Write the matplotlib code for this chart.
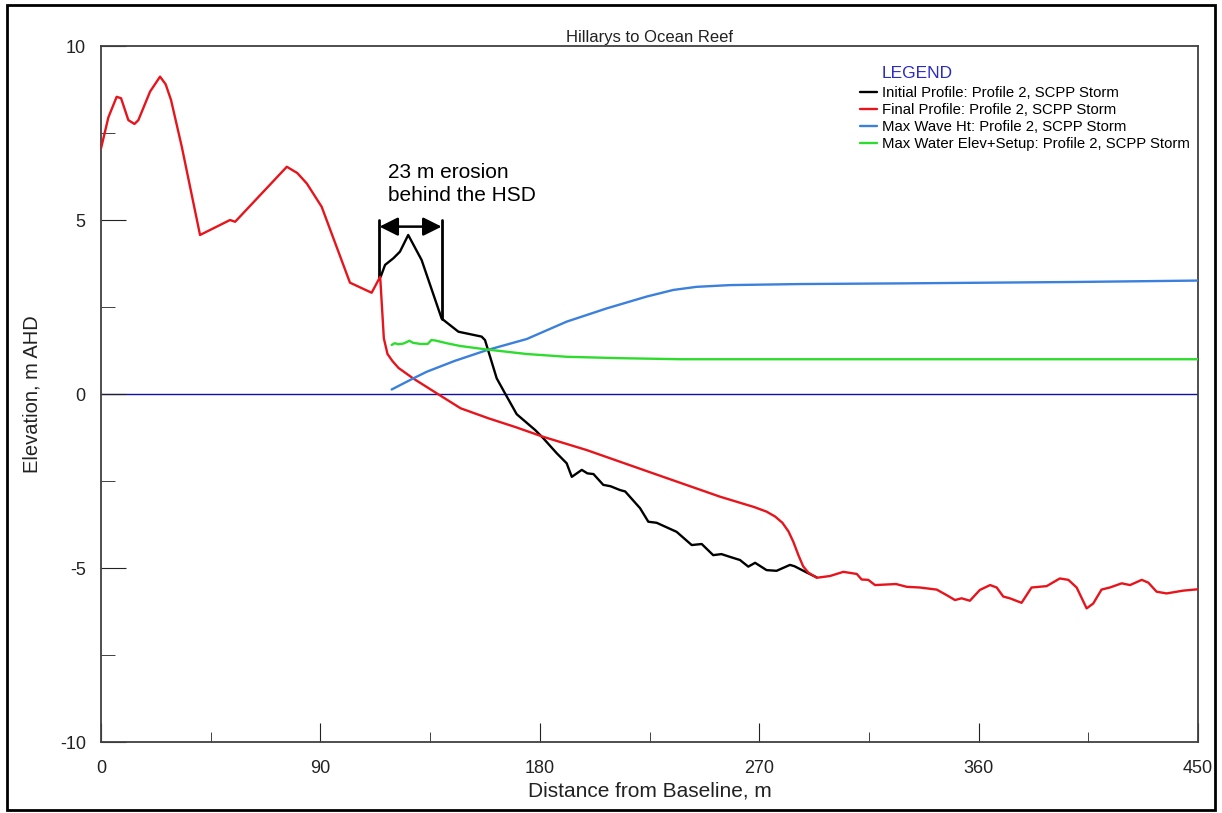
"""
Beach profile response to the SCPP storm, Hillarys to Ocean Reef (Profile 2).
"""
import matplotlib
matplotlib.use("Agg")
import matplotlib.pyplot as plt
from matplotlib.patches import Rectangle

plt.rcParams["font.family"] = ["Liberation Sans", "DejaVu Sans"]
plt.rcParams["axes.unicode_minus"] = False
plt.rcParams["lines.solid_joinstyle"] = "round"
plt.rcParams["lines.solid_capstyle"] = "round"

# initial profile (visible part, elsewhere it lies under the final profile)
initial_x = [114.7, 116.5, 119.9, 122.6, 126.0, 131.5, 139.7, 146.6, 156.1, 157.5,
             162.3, 165.7, 170.5, 178.0, 181.4, 186.9, 191.0, 193.1, 197.2, 199.5,
             202.0, 206.0, 209.0, 212.9, 215.0, 221.1, 224.5, 227.9, 236.1, 242.3,
             246.4, 251.1, 254.5, 258.0, 262.1, 265.5, 268.3, 273.0, 277.1, 282.6,
             284.5, 289.5, 293.6]
initial_z = [3.37, 3.71, 3.90, 4.09, 4.57, 3.85, 2.17, 1.79, 1.65, 1.55,
             0.45, 0.02, -0.58, -1.03, -1.27, -1.70, -1.99, -2.38, -2.18, -2.28,
             -2.30, -2.61, -2.65, -2.76, -2.80, -3.28, -3.67, -3.70, -3.96, -4.34,
             -4.31, -4.63, -4.60, -4.68, -4.77, -4.96, -4.85, -5.06, -5.08, -4.91,
             -4.95, -5.13, -5.27]

# final profile
final_x = [0.0, 3.0, 6.4, 8.2, 11.2, 13.7, 15.3, 20.1, 24.2, 26.5, 28.7, 33.1,
           40.6, 50.9, 52.9, 55.0, 76.2, 80.5, 84.4, 90.5, 102.1, 111.0, 114.5,
           116.0, 117.5, 119.5, 122.0, 128.0, 137.7, 147.5, 159.0, 170.0, 181.4, 199.2,
           226.5, 253.9, 268.0, 273.0, 276.5, 279.5, 282.0, 284.0, 286.0, 288.0, 290.1,
           293.6, 299.0,
           304.5, 310.0, 312.0, 314.7, 317.5, 326.1, 330.5, 335.9, 342.8, 346.9,
           350.3, 353.0, 356.4, 360.5, 364.7, 367.4, 370.1, 372.8, 377.6, 381.7,
           387.9, 393.3, 396.8, 400.2, 404.3, 407.0, 410.4, 413.8, 418.7, 422.1,
           426.9, 429.6, 433.0, 437.1, 443.9, 450.0]
final_z = [7.06, 7.95, 8.54, 8.50, 7.87, 7.76, 7.87, 8.69, 9.12, 8.90, 8.45, 7.11,
           4.57, 4.93, 5.00, 4.95, 6.53, 6.35, 6.05, 5.38, 3.20, 2.91, 3.37,
           1.60, 1.15, 0.95, 0.75, 0.45, 0.02, -0.41, -0.70, -0.95, -1.23, -1.61,
           -2.28, -2.95, -3.25, -3.38, -3.52, -3.70, -3.95, -4.25, -4.62, -4.95, -5.13,
           -5.28, -5.23,
           -5.11, -5.17, -5.33, -5.34, -5.49, -5.46, -5.54, -5.56, -5.62, -5.78,
           -5.92, -5.87, -5.94, -5.63, -5.49, -5.56, -5.82, -5.87, -6.00, -5.56,
           -5.52, -5.30, -5.34, -5.56, -6.16, -6.02, -5.62, -5.56, -5.44, -5.49,
           -5.34, -5.42, -5.68, -5.73, -5.65, -5.61]

# maximum wave height
wave_x = [119.2, 128.1, 133.6, 145.0, 158.2, 174.6, 191.0, 207.4, 223.8, 234.7,
          244.3, 258.0, 286.7, 330.0, 364.7, 400.0, 450.0]
wave_z = [0.13, 0.45, 0.64, 0.95, 1.26, 1.58, 2.08, 2.46, 2.80, 2.99,
          3.08, 3.13, 3.16, 3.18, 3.20, 3.22, 3.26]

# maximum water elevation + setup
water_x = [119.2, 120.5, 122.0, 124.0, 126.5, 128.0, 131.0, 134.0, 135.5, 137.0,
           141.8, 147.3, 158.2, 174.6, 191.0, 212.9, 237.5, 286.7, 450.0]
water_z = [1.41, 1.46, 1.43, 1.45, 1.53, 1.47, 1.44, 1.44, 1.55, 1.54,
           1.46, 1.38, 1.28, 1.15, 1.07, 1.03, 1.00, 1.00, 1.00]

labels = ["Initial Profile: Profile 2, SCPP Storm",
          "Final Profile: Profile 2, SCPP Storm",
          "Max Wave Ht: Profile 2, SCPP Storm",
          "Max Water Elev+Setup: Profile 2, SCPP Storm"]
colors = ["black", "#e8141c", "#3a80dc", "#2edc2e"]

# erosion annotation
erosion_left, erosion_right = 114.2, 139.7
erosion_top = 5.0
erosion_arrow_y = 4.81
erosion_text = "23 m erosion\nbehind the HSD"


def main():
    fig = plt.figure(figsize=(12.22, 8.13), dpi=100)
    ax = fig.add_axes([0.0827, 0.0873, 0.8977, 0.8561])

    ax.axhline(0, color="#1010a8", lw=1.0, zorder=1)
    ax.plot(initial_x, initial_z, color=colors[0], lw=1.7, label=labels[0], zorder=2)
    ax.plot(final_x, final_z, color=colors[1], lw=1.7, label=labels[1], zorder=3)
    ax.plot(wave_x, wave_z, color=colors[2], lw=1.7, label=labels[2], zorder=4)
    ax.plot(water_x, water_z, color=colors[3], lw=1.7, label=labels[3], zorder=5)

    # erosion marker
    ax.plot([erosion_left, erosion_left], [erosion_top, 3.37], color="black", lw=2)
    ax.plot([erosion_right, erosion_right], [erosion_top, 2.17], color="black", lw=2)
    ax.annotate("", xy=(erosion_left, erosion_arrow_y), xytext=(erosion_right, erosion_arrow_y),
                arrowprops=dict(arrowstyle="<|-|>", color="black", lw=1.8,
                                mutation_scale=28, shrinkA=0, shrinkB=0))
    ax.text(117.7, 6.65, erosion_text, fontsize=15, va="top", ha="left",
            linespacing=1.3)

    ax.set_xlim(0, 450)
    ax.set_ylim(-10, 10)
    ax.set_xticks([0, 90, 180, 270, 360, 450])
    ax.set_xticks([45, 135, 225, 315, 405], minor=True)
    ax.set_yticks([-10, -5, 0, 5, 10])
    ax.set_yticks([-7.5, -2.5, 2.5, 7.5], minor=True)
    ax.tick_params(axis="both", which="both", direction="in", labelsize=13,
                   colors="#222222")
    ax.tick_params(axis="x", which="major", length=14, pad=13)
    ax.tick_params(axis="x", which="minor", length=7)
    ax.tick_params(axis="y", which="major", length=18, pad=11)
    ax.tick_params(axis="y", which="minor", length=10)
    for sp in ax.spines.values():
        sp.set_color("#404040")
        sp.set_linewidth(1.3)

    ax.set_xlabel("Distance from Baseline, m", fontsize=15, labelpad=3, color="#222222")
    ax.set_ylabel("Elevation, m AHD", fontsize=14.5, labelpad=13, color="#222222")
    ax.set_title("Hillarys to Ocean Reef", fontsize=12, pad=3, color="#222222")

    ax.legend(loc="upper left", bbox_to_anchor=(0.692, 0.942), frameon=False,
              fontsize=10.7, handlelength=1.1, handletextpad=0.35, labelspacing=0.2,
              borderpad=0, borderaxespad=0)
    ax.text(0.712, 0.961, "LEGEND", transform=ax.transAxes, fontsize=12.5,
            color="#2a2ac8", va="center", ha="left")

    fig.patches.append(Rectangle((0.006, 0.004), 0.988, 0.99, transform=fig.transFigure,
                                 fill=False, ec="black", lw=2))

    fig.savefig("out.png", dpi=100)


if __name__ == "__main__":
    main()
